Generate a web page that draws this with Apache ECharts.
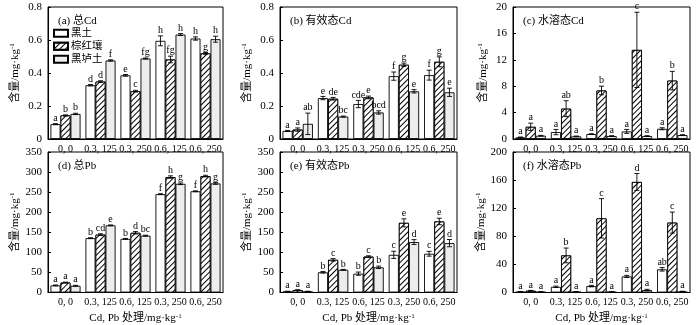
<!DOCTYPE html>
<html>
<head>
<meta charset="utf-8">
<script src="https://cdn.jsdelivr.net/npm/echarts@6/dist/echarts.min.js"></script>
<style>html,body{margin:0;padding:0;background:#fff}#c{width:700px;height:325px}</style>
</head>
<body>
<div id="c"></div>
<script>
// ---------- data ----------
const categoriesTop = ['0, 0', '0.3, 125', '0.3, 250', '0.6, 125', '0.6, 250'];
const categoriesBottom = ['0, 0', '0.3, 125', '0.6, 125', '0.3, 250', '0.6, 250'];
const seriesNames = ['黑土', '棕红壤', '黑垆土'];
const panelTitles = ['(a) 总Cd', '(b) 有效态Cd', '(c) 水溶态Cd', '(d) 总Pb', '(e) 有效态Pb', '(f) 水溶态Pb'];

// (a) total Cd
const aBlack = [0.090, 0.326, 0.386, 0.595, 0.609];
const aRed   = [0.143, 0.348, 0.290, 0.482, 0.519];
const aLoess = [0.152, 0.476, 0.488, 0.633, 0.605];
const aErrBlack = [0.003, 0.004, 0.005, 0.030, 0.010];
const aErrRed   = [0.003, 0.005, 0.005, 0.020, 0.005];
const aErrLoess = [0.004, 0.004, 0.003, 0.006, 0.018];
const aLetBlack = ['a', 'd', 'e', 'h', 'h'];
const aLetRed   = ['b', 'd', 'c', 'fg', 'g'];
const aLetLoess = ['b', 'f', 'fg', 'h', 'h'];

// (b) available Cd
const bBlack = [0.049, 0.248, 0.212, 0.381, 0.387];
const bRed   = [0.057, 0.244, 0.252, 0.450, 0.468];
const bLoess = [0.092, 0.136, 0.161, 0.289, 0.283];
const bErrBlack = [0.003, 0.010, 0.022, 0.025, 0.030];
const bErrRed   = [0.010, 0.008, 0.008, 0.010, 0.030];
const bErrLoess = [0.065, 0.003, 0.010, 0.010, 0.025];
const bLetBlack = ['a', 'e', 'cde', 'f', 'f'];
const bLetRed   = ['a', 'de', 'e', 'g', 'g'];
const bLetLoess = ['ab', 'bc', 'bcd', 'e', 'e'];

// (c) water-soluble Cd
const cBlack = [0.25, 1.05, 0.75, 1.15, 1.55];
const cRed   = [1.85, 4.60, 7.35, 13.5, 8.85];
const cLoess = [0.50, 0.40, 0.45, 0.45, 0.60];
const cErrBlack = [0.05, 0.40, 0.05, 0.30, 0.15];
const cErrRed   = [0.55, 1.20, 0.65, 5.70, 1.40];
const cErrLoess = [0.05, 0.05, 0.05, 0.05, 0.05];
const cLetBlack = ['a', 'a', 'a', 'a', 'a'];
const cLetRed   = ['a', 'ab', 'b', 'c', 'b'];
const cLetLoess = ['a', 'a', 'a', 'a', 'a'];

// (d) total Pb
const dBlack = [17.7, 135.4, 133.6, 245.0, 252.2];
const dRed   = [24.8, 144.2, 148.7, 287.6, 290.0];
const dLoess = [16.8, 167.3, 141.6, 270.8, 271.7];
const dErrBlack = [1, 1, 1, 1, 1];
const dErrRed   = [1, 2, 3, 3, 2];
const dErrLoess = [1, 1, 1, 2, 2];
const dLetBlack = ['a', 'b', 'b', 'f', 'f'];
const dLetRed   = ['a', 'cd', 'd', 'h', 'h'];
const dLetLoess = ['a', 'e', 'bc', 'g', 'g'];

// (e) available Pb
const eBlack = [2.7, 50.4, 46.9, 93.8, 96.5];
const eRed   = [6.2, 81.4, 89.4, 173.5, 177.0];
const eLoess = [2.7, 56.6, 62.8, 125.7, 123.0];
const eErrBlack = [0.5, 2, 4, 9, 6];
const eErrRed   = [0.5, 3, 2, 10, 8];
const eErrLoess = [0.5, 1, 3, 6, 9];
const eLetBlack = ['a', 'b', 'b', 'c', 'c'];
const eLetRed   = ['a', 'c', 'c', 'e', 'e'];
const eLetLoess = ['a', 'b', 'b', 'd', 'd'];

// (f) water-soluble Pb
const fBlack = [1.0, 8.1, 9.1, 22.9, 33.0];
const fRed   = [2.5, 52.8, 105.6, 157.4, 99.5];
const fLoess = [1.0, 1.0, 1.0, 3.5, 1.5];
const fErrBlack = [0.5, 1, 1, 1.5, 2.5];
const fErrRed   = [0.5, 10.5, 28, 12, 15];
const fErrLoess = [0.3, 0.3, 0.3, 1, 0.3];
const fLetBlack = ['a', 'a', 'a', 'a', 'ab'];
const fLetRed   = ['a', 'b', 'c', 'd', 'c'];
const fLetLoess = ['a', 'a', 'a', 'a', 'a'];

const yMax = [0.8, 0.8, 20, 350, 350, 200];
const yInterval = [0.2, 0.2, 4, 50, 50, 40];

// ---------- build ----------
const FONT = "'Liberation Serif', 'Times New Roman', 'Noto Sans CJK SC', serif";
const panels = [
  {cats: categoriesTop, vals: [aBlack, aRed, aLoess], errs: [aErrBlack, aErrRed, aErrLoess], lets: [aLetBlack, aLetRed, aLetLoess]},
  {cats: categoriesTop, vals: [bBlack, bRed, bLoess], errs: [bErrBlack, bErrRed, bErrLoess], lets: [bLetBlack, bLetRed, bLetLoess]},
  {cats: categoriesTop, vals: [cBlack, cRed, cLoess], errs: [cErrBlack, cErrRed, cErrLoess], lets: [cLetBlack, cLetRed, cLetLoess]},
  {cats: categoriesBottom, vals: [dBlack, dRed, dLoess], errs: [dErrBlack, dErrRed, dErrLoess], lets: [dLetBlack, dLetRed, dLetLoess]},
  {cats: categoriesBottom, vals: [eBlack, eRed, eLoess], errs: [eErrBlack, eErrRed, eErrLoess], lets: [eLetBlack, eLetRed, eLetLoess]},
  {cats: categoriesBottom, vals: [fBlack, fRed, fLoess], errs: [fErrBlack, fErrRed, fErrLoess], lets: [fLetBlack, fLetRed, fLetLoess]}
];

const gridPos = [
  {left: 48, top: 7, width: 175, height: 132},
  {left: 280, top: 7, width: 177, height: 132},
  {left: 513, top: 7, width: 177, height: 132},
  {left: 48, top: 152, width: 175, height: 141},
  {left: 280, top: 152, width: 177, height: 141},
  {left: 513, top: 152, width: 177, height: 141}
];

const GAP = 0.14;
const hatch = {
  symbol: 'rect', symbolSize: 1,
  dashArrayX: [1, 0], dashArrayY: [1, 2.4],
  rotation: -Math.PI / 4,
  color: '#000', backgroundColor: '#fff'
};
const barStyles = [
  {color: '#ffffff', borderColor: '#000', borderWidth: 0.9},
  {color: '#ffffff', borderColor: '#000', borderWidth: 0.9, decal: hatch},
  {color: '#ededed', borderColor: '#000', borderWidth: 0.9}
];

const grids = [], xAxes = [], yAxes = [], series = [], titles = [];
panels.forEach((p, i) => {
  const g = gridPos[i];
  grids.push(Object.assign({show: true, borderColor: '#000', borderWidth: 1, backgroundColor: 'transparent'}, g));
  titles.push({
    text: panelTitles[i], left: g.left + 5, top: g.top + 4,
    textStyle: {fontFamily: FONT, fontSize: 11, fontWeight: 'normal', color: '#000'}
  });
  const bottom = i >= 3;
  xAxes.push({
    type: 'category', gridIndex: i, data: p.cats,
    axisLine: {lineStyle: {color: '#000', width: 1}},
    axisTick: {show: false},
    axisLabel: {interval: 0, color: '#000', fontFamily: FONT, fontSize: 10, margin: 5},
    name: bottom ? 'Cd, Pb 处理/mg·kg{sup|-1}' : '',
    nameLocation: 'middle', nameGap: 20,
    nameTextStyle: {color: '#000', fontFamily: FONT, fontSize: 11,
      rich: {sup: {fontSize: 7, verticalAlign: 'top', padding: [0, 0, 5, 0], fontFamily: FONT, color: '#000'}}}
  });
  yAxes.push({
    type: 'value', gridIndex: i, min: 0, max: yMax[i], interval: yInterval[i],
    splitLine: {show: false},
    axisLine: {show: true, lineStyle: {color: '#000', width: 1}},
    axisTick: {show: true, inside: true, length: 3, lineStyle: {color: '#000'}},
    axisLabel: {color: '#000', fontFamily: FONT, fontSize: 11, margin: 6},
    name: '含量/mg·kg{sup|-1}', nameLocation: 'middle', nameRotate: 90,
    nameGap: i === 2 || i === 5 ? 24 : 27,
    nameTextStyle: {color: '#000', fontFamily: FONT, fontSize: 11,
      rich: {sup: {fontSize: 7, verticalAlign: 'top', padding: [0, 0, 5, 0], fontFamily: FONT, color: '#000'}}}
  });
  p.vals.forEach((arr, k) => {
    series.push({
      type: 'bar', name: seriesNames[k], xAxisIndex: i, yAxisIndex: i,
      data: arr, barGap: '0%', barCategoryGap: (GAP * 100) + '%',
      itemStyle: barStyles[k], silent: true, animation: false
    });
  });
  // error bars + significance letters
  const ebData = [];
  p.vals.forEach((arr, k) => arr.forEach((v, c) => ebData.push([c, k, v, p.errs[k][c]])));
  const letters = [];
  p.vals.forEach((arr, k) => arr.forEach((v, c) => letters.push(p.lets[k][c])));
  series.push({
    type: 'custom', xAxisIndex: i, yAxisIndex: i, data: ebData, silent: true, animation: false,
    encode: {x: 0, y: 2}, z: 10,
    renderItem: (params, api) => {
      const c = api.value(0), k = api.value(1), v = api.value(2), e = api.value(3);
      const band = api.size([1, 0])[0];
      const barW = band * (1 - GAP) / 3;
      const cx = api.coord([c, 0])[0] + (k - 1) * barW;
      const yT = api.coord([c, v + e])[1];
      const yB = api.coord([c, Math.max(v - e, 0)])[1];
      const cap = 2.5;
      const st = {stroke: '#000', lineWidth: 0.9};
      return {
        type: 'group', children: [
          {type: 'line', shape: {x1: cx, y1: yT, x2: cx, y2: yB}, style: st},
          {type: 'line', shape: {x1: cx - cap, y1: yT, x2: cx + cap, y2: yT}, style: st},
          {type: 'line', shape: {x1: cx - cap, y1: yB, x2: cx + cap, y2: yB}, style: st},
          {type: 'text', x: cx, y: yT - 0.5, style: {
            text: letters[params.dataIndex], textAlign: 'center', textVerticalAlign: 'bottom',
            fontFamily: FONT, fontSize: 10, fill: '#000'}}
        ]
      };
    }
  });
});

const chart = echarts.init(document.getElementById('c'), null, {renderer: 'canvas'});
chart.setOption({
  animation: false,
  backgroundColor: '#fff',
  title: titles,
  grid: grids,
  xAxis: xAxes,
  yAxis: yAxes,
  legend: {
    data: seriesNames, orient: 'vertical', left: 53, top: 28,
    itemWidth: 14, itemHeight: 7, itemGap: 2.5, icon: 'rect',
    textStyle: {fontFamily: FONT, fontSize: 10.5, color: '#000', padding: [0, 0, 0, -2]},
    selectedMode: false, padding: 0
  },
  series: series
});
</script>
</body>
</html>
